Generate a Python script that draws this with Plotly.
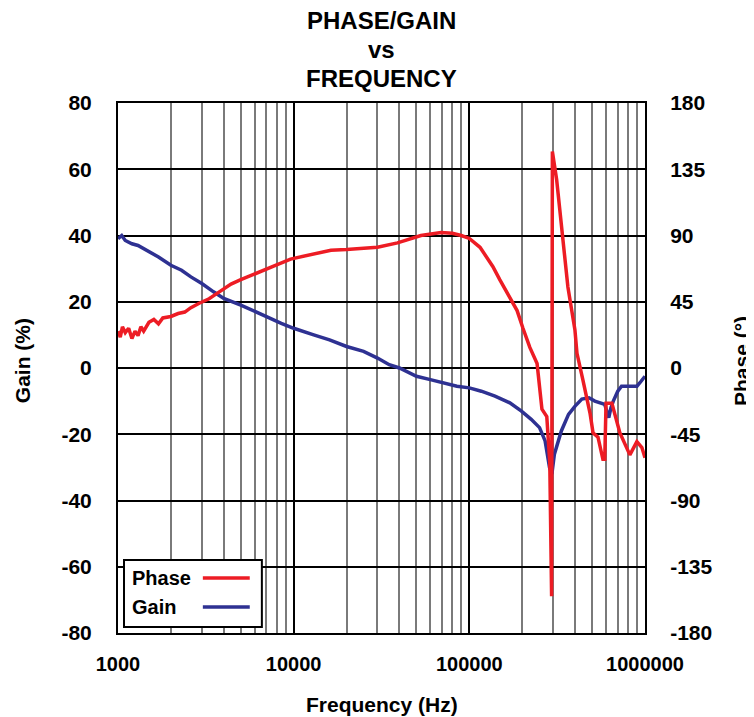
"""
Phase/gain vs frequency chart (log x, dual y axes).
"""
import plotly.graph_objects as go

# Gain curve (Hz, %)
gain_freq = [1000, 1050, 1100, 1200, 1300, 1400, 1500, 1700, 2000, 2300,
             2600, 3000, 3500, 4000, 5000, 6000, 7000, 8500, 10000, 13000,
             16000, 20000, 25000, 30000, 35000, 40000, 50000, 60000, 70000, 85000,
             100000, 117000, 140000, 170000, 198000, 225000, 251000, 270000, 286000, 295000,
             305000, 320000, 334000, 367000, 400000, 437000, 480000, 518000, 560000, 590000,
             622000, 640000, 660000, 700000, 735000, 800000, 900000, 950000, 1000000]
gain_vals = [39, 40, 38.5, 37.5, 37, 36, 35, 33.5, 31, 29.5,
             27.5, 25.5, 23, 21, 19, 17, 15.5, 13.5, 12, 10,
             8.5, 6.5, 5, 3, 1, 0, -2.5, -3.5, -4.5, -5.5,
             -6, -7, -8.5, -10.5, -13, -15.5, -18, -22, -30, -32,
             -26, -22, -19, -14, -11.5, -9.4, -9, -10, -10.5, -11,
             -15, -12, -10, -7, -5.5, -5.5, -5.5, -4, -2.5]

# Phase curve (Hz, degrees)
phase_freq = [1000, 1030, 1060, 1100, 1150, 1200, 1250, 1300, 1350, 1400,
              1500, 1600, 1700, 1800, 2000, 2200, 2400, 2600, 2900, 3300,
              3700, 4000, 4400, 5000, 5500, 6500, 8000, 9600, 12500, 16300,
              20000, 25000, 30000, 39000, 53000, 69000, 80000, 90000, 100000, 115000,
              136000, 149000, 170000, 187000, 202000, 221000, 243000, 259000, 276000, 287000,
              294000, 297000, 314000, 335000, 364000, 399000, 410000, 443000, 465000, 487000,
              506000, 540000, 576000, 590000, 600000, 648000, 719000, 789000, 820000, 899000,
              960000, 1000000]
phase_vals = [25, 21, 28, 24, 27, 20, 25, 22, 28, 25,
              31, 33, 30, 34, 35, 37, 38, 41, 44, 47,
              51, 54, 57, 60, 62, 65, 70, 74, 77, 80,
              80.5, 81, 82, 85, 90, 92, 91.5, 90, 88, 82,
              69, 60, 48, 39, 27, 14, 3, -28, -33, -64,
              -155, 147, 128, 94, 55, 26, 10, -8, -20, -31,
              -44, -47, -62, -62, -24, -24, -44, -54, -59, -50,
              -54, -61]

x_tick_vals = [1000, 10000, 100000, 1000000]
x_tick_text = ['1000', '10000', '100000', '1000000']
gain_ticks = [-80, -60, -40, -20, 0, 20, 40, 60, 80]
phase_ticks = [-180, -135, -90, -45, 0, 45, 90, 135, 180]
title_lines = ['PHASE/GAIN', 'vs', 'FREQUENCY']

FONT = 'Liberation Sans, Arial, sans-serif'
RED = '#ED1C24'
BLUE = '#2E3192'

minor_vals = [m * 10 ** d for d in (3, 4, 5) for m in range(2, 10)]

fig = go.Figure()

fig.add_trace(go.Scatter(
    x=gain_freq, y=gain_vals, mode='lines', name='Gain',
    line=dict(color=BLUE, width=3.5), yaxis='y'
))
fig.add_trace(go.Scatter(
    x=phase_freq, y=phase_vals, mode='lines', name='Phase',
    line=dict(color=RED, width=3.5), yaxis='y2'
))

# the page puts the figure 8px in from the top-left corner
fig.update_layout(
    width=746, height=709,
    margin=dict(l=110, r=109, t=95, b=84),
    paper_bgcolor='white', plot_bgcolor='white',
    showlegend=False,
    font=dict(family=FONT, color='black'),
    xaxis=dict(
        type='log', range=[3, 6], automargin=False,
        tickvals=x_tick_vals, ticktext=x_tick_text,
        tickfont=dict(size=20, weight='bold'),
        ticks='', ticklabelstandoff=12,
        showgrid=True, gridcolor='black', gridwidth=1.5,
        minor=dict(tickvals=minor_vals, showgrid=True, gridcolor='#7a7a7a', gridwidth=2),
        showline=True, linecolor='black', linewidth=2, mirror=True,
        zeroline=False
    ),
    yaxis=dict(
        range=[-80, 80], tickvals=gain_ticks, automargin=False,
        ticktext=[str(v) for v in gain_ticks],
        tickfont=dict(size=21, weight='bold'),
        ticks='', ticklabelstandoff=20,
        showgrid=True, gridcolor='black', gridwidth=1.5,
        showline=True, linecolor='black', linewidth=2,
        zeroline=False
    ),
    yaxis2=dict(
        range=[-180, 180], tickvals=phase_ticks, automargin=False,
        ticktext=[str(v) for v in phase_ticks],
        overlaying='y', side='right',
        tickfont=dict(size=21, weight='bold'),
        ticks='', ticklabelstandoff=19,
        showgrid=False, zeroline=False,
        showline=True, linecolor='black', linewidth=2
    )
)

# Title, three lines, centred over the plot area
for line, yy in zip(title_lines, [1.1566, 1.1, 1.047]):
    fig.add_annotation(xref='paper', yref='paper', x=0.5, y=yy,
                       text=f'<b>{line}</b>', showarrow=False,
                       xanchor='center', yanchor='middle',
                       font=dict(size=24, family=FONT, color='black'))

# Axis titles
fig.add_annotation(xref='paper', yref='paper', x=0.5, y=-0.134,
                   text='<b>Frequency (Hz)</b>', showarrow=False,
                   xanchor='center', yanchor='middle',
                   font=dict(size=21, family=FONT, color='black'))
fig.add_annotation(xref='paper', yref='paper', x=-0.182, y=0.513,
                   text='<b>Gain (%)</b>', showarrow=False, textangle=-90,
                   xanchor='center', yanchor='middle',
                   font=dict(size=21, family=FONT, color='black'))
fig.add_annotation(xref='paper', yref='paper', x=1.182, y=0.513,
                   text='<b>Phase (°)</b>', showarrow=False, textangle=-90,
                   xanchor='center', yanchor='middle',
                   font=dict(size=21, family=FONT, color='black'))

# Legend drawn by hand: text first, then the line sample
fig.add_shape(type='rect', xref='paper', yref='paper',
              x0=0.0114, x1=0.273, y0=0.0113, y1=0.1377,
              line=dict(color='black', width=2), fillcolor='white', layer='above')
legend_rows = [('Phase', RED, 0.104), ('Gain', BLUE, 0.049)]
for label, color, yy in legend_rows:
    fig.add_annotation(xref='paper', yref='paper', x=0.022, y=yy,
                       text=f'<b>{label}</b>', showarrow=False,
                       xanchor='left', yanchor='middle',
                       font=dict(size=20, family=FONT, color='black'))
    fig.add_shape(type='line', xref='paper', yref='paper',
                  x0=0.161, x1=0.250, y0=yy, y1=yy,
                  line=dict(color=color, width=3.5), layer='above')

fig.write_html("out.html")
